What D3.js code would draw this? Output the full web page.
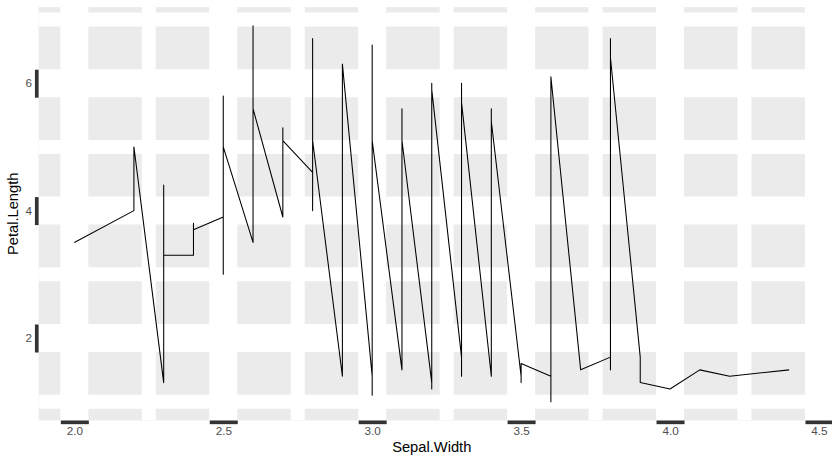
<!DOCTYPE html>
<html>
<head>
<meta charset="utf-8">
<script src="https://cdn.jsdelivr.net/npm/d3@7"></script>
<style>
  html, body { margin: 0; padding: 0; background: #fff; }
  svg { display: block; }
  text { font-family: "Liberation Sans", Arial, Helvetica, sans-serif; }
</style>
</head>
<body>
<svg id="chart" width="832" height="463"></svg>
<script>
// iris data, in data order
const sepalWidth = [
  3.5,3.0,3.2,3.1,3.6,3.9,3.4,3.4,2.9,3.1,3.7,3.4,3.0,3.0,4.0,4.4,3.9,3.5,3.8,3.8,
  3.4,3.7,3.6,3.3,3.4,3.0,3.4,3.5,3.4,3.2,3.1,3.4,4.1,4.2,3.1,3.2,3.5,3.6,3.0,3.4,
  3.5,2.3,3.2,3.5,3.8,3.0,3.8,3.2,3.7,3.3,
  3.2,3.2,3.1,2.3,2.8,2.8,3.3,2.4,2.9,2.7,2.0,3.0,2.2,2.9,2.9,3.1,3.0,2.7,2.2,2.5,
  3.2,2.8,2.5,2.8,2.9,3.0,2.8,3.0,2.9,2.6,2.4,2.4,2.7,2.7,3.0,3.4,3.1,2.3,3.0,2.5,
  2.6,3.0,2.6,2.3,2.7,3.0,2.9,2.9,2.5,2.8,
  3.3,2.7,3.0,2.9,3.0,3.0,2.5,2.9,2.5,3.6,3.2,2.7,3.0,2.5,2.8,3.2,3.0,3.8,2.6,2.2,
  3.2,2.8,2.8,2.7,3.3,3.2,2.8,3.0,2.8,3.0,2.8,3.8,2.8,2.8,2.6,3.0,3.4,3.1,3.0,3.1,
  3.1,3.1,2.7,3.2,3.3,3.0,2.5,3.0,3.4,3.0
];
const petalLength = [
  1.4,1.4,1.3,1.5,1.4,1.7,1.4,1.5,1.4,1.5,1.5,1.6,1.4,1.1,1.2,1.5,1.3,1.4,1.7,1.5,
  1.7,1.5,1.0,1.7,1.9,1.6,1.6,1.5,1.4,1.6,1.6,1.5,1.5,1.4,1.5,1.2,1.3,1.4,1.3,1.5,
  1.3,1.3,1.3,1.6,1.9,1.4,1.6,1.4,1.5,1.4,
  4.7,4.5,4.9,4.0,4.6,4.5,4.7,3.3,4.6,3.9,3.5,4.2,4.0,4.7,3.6,4.4,4.5,4.1,4.5,3.9,
  4.8,4.0,4.9,4.7,4.3,4.4,4.8,5.0,4.5,3.5,3.8,3.7,3.9,5.1,4.5,4.5,4.7,4.4,4.1,4.0,
  4.4,4.6,4.0,3.3,4.2,4.2,4.2,4.3,3.0,4.1,
  6.0,5.1,5.9,5.6,5.8,6.6,4.5,6.3,5.8,6.1,5.1,5.3,5.5,5.0,5.1,5.3,5.5,6.7,6.9,5.0,
  5.7,4.9,6.7,4.9,5.7,6.0,4.8,4.9,5.6,5.8,6.1,6.4,5.6,5.1,5.6,6.1,5.6,5.5,4.8,5.4,
  5.6,5.1,5.1,5.9,5.7,5.2,5.0,5.2,5.4,5.1
];
const xTicks = [2.0, 2.5, 3.0, 3.5, 4.0, 4.5];
const xMinor = [2.25, 2.75, 3.25, 3.75, 4.25];
const yTicks = [2, 4, 6];
const yMinor = [1, 3, 5, 7];
const xTitle = "Sepal.Width";
const yTitle = "Petal.Length";

const svg = d3.select("#chart");
const panel = { left: 38.6, right: 824.9, top: 7.1, bottom: 420.5 };

// ggplot-style 5% expansion
const xExt = d3.extent(sepalWidth), yExt = d3.extent(petalLength);
const xPad = (xExt[1] - xExt[0]) * 0.05, yPad = (yExt[1] - yExt[0]) * 0.05;
const x = d3.scaleLinear().domain([xExt[0] - xPad, xExt[1] + xPad]).range([panel.left, panel.right]);
const y = d3.scaleLinear().domain([yExt[0] - yPad, yExt[1] + yPad]).range([panel.bottom, panel.top]);

svg.append("defs").append("clipPath").attr("id", "clip")
  .append("rect")
  .attr("x", panel.left).attr("y", panel.top)
  .attr("width", panel.right - panel.left).attr("height", panel.bottom - panel.top);

// panel background
svg.append("rect")
  .attr("x", panel.left).attr("y", panel.top)
  .attr("width", panel.right - panel.left).attr("height", panel.bottom - panel.top)
  .attr("fill", "#EBEBEB");

const grid = svg.append("g").attr("clip-path", "url(#clip)");
// minor grid
grid.selectAll("line.xminor").data(xMinor).join("line")
  .attr("x1", d => x(d)).attr("x2", d => x(d))
  .attr("y1", panel.top).attr("y2", panel.bottom)
  .attr("stroke", "#fff").attr("stroke-width", 14);
grid.selectAll("line.yminor").data(yMinor).join("line")
  .attr("y1", d => y(d)).attr("y2", d => y(d))
  .attr("x1", panel.left).attr("x2", panel.right)
  .attr("stroke", "#fff").attr("stroke-width", 14);
// major grid
grid.selectAll("line.xmajor").data(xTicks).join("line")
  .attr("x1", d => x(d)).attr("x2", d => x(d))
  .attr("y1", panel.top).attr("y2", panel.bottom)
  .attr("stroke", "#fff").attr("stroke-width", 28);
grid.selectAll("line.ymajor").data(yTicks).join("line")
  .attr("y1", d => y(d)).attr("y2", d => y(d))
  .attr("x1", panel.left).attr("x2", panel.right)
  .attr("stroke", "#fff").attr("stroke-width", 28);

// line (sorted by x, stable)
const pts = sepalWidth.map((w, i) => ({ x: w, y: petalLength[i], i }));
pts.sort((a, b) => a.x - b.x || a.i - b.i);
svg.append("path")
  .datum(pts)
  .attr("clip-path", "url(#clip)")
  .attr("fill", "none")
  .attr("stroke", "#000")
  .attr("stroke-width", 1.07)
  .attr("stroke-linejoin", "round")
  .attr("d", d3.line().x(d => x(d.x)).y(d => y(d.y)));

// axes
const tickLen = 3.67, tickW = 28;
const xAxis = d3.axisBottom(x).tickValues(xTicks).tickFormat(d3.format(".1f"))
  .tickSize(tickLen).tickPadding(2.9);
const gx = svg.append("g").attr("transform", `translate(0,${panel.bottom})`).call(xAxis);
gx.select(".domain").remove();
gx.selectAll(".tick line").attr("stroke", "#333333").attr("stroke-width", tickW);
gx.selectAll(".tick text").attr("fill", "#4D4D4D").attr("font-size", "11.7px")
  .attr("font-family", "Liberation Sans, Arial, sans-serif");

const yAxis = d3.axisLeft(y).tickValues(yTicks).tickFormat(d3.format("d"))
  .tickSize(tickLen).tickPadding(2.9);
const gy = svg.append("g").attr("transform", `translate(${panel.left},0)`).call(yAxis);
gy.select(".domain").remove();
gy.selectAll(".tick line").attr("stroke", "#333333").attr("stroke-width", tickW);
gy.selectAll(".tick text").attr("fill", "#4D4D4D").attr("font-size", "11.7px")
  .attr("font-family", "Liberation Sans, Arial, sans-serif");

// titles
svg.append("text")
  .attr("x", (panel.left + panel.right) / 2).attr("y", 451.5)
  .attr("text-anchor", "middle").attr("font-size", "14.7px").attr("fill", "#000")
  .text(xTitle);
svg.append("text")
  .attr("transform", `translate(18.3,${(panel.top + panel.bottom) / 2}) rotate(-90)`)
  .attr("text-anchor", "middle").attr("font-size", "14.7px").attr("fill", "#000")
  .text(yTitle);
</script>
</body>
</html>
